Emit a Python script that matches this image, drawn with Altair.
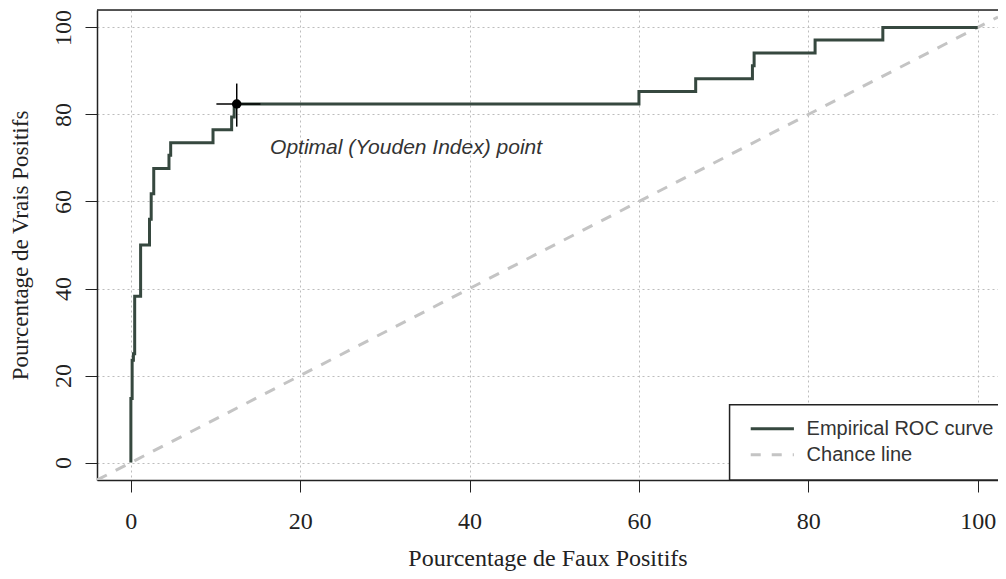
import altair as alt
import pandas as pd

# Empirical ROC curve (step vertices: x = false-positive %, y = true-positive % after the jump)
fpr = [0, 0, 0.15, 0.3, 0.45, 1.15, 2.2, 2.4, 2.7, 4.5, 4.7, 9.7, 11.9, 12.2,
       60.0, 66.7, 73.4, 73.6, 80.8, 88.8, 100]
tpr = [0, 14.7, 23.5, 25.0, 38.2, 50.0, 55.9, 61.8, 67.6, 70.6, 73.5, 76.5, 79.4, 82.4,
       85.3, 88.2, 91.2, 94.1, 97.1, 100, 100]

# Chance line (diagonal, spanning the plotting region)
chance_x = [-4, 102.4]
chance_y = [-4, 102.4]

# Optimal (Youden index) point and its cross
opt_x = [12.5]
opt_y = [82.4]
opt_x_lo, opt_x_hi = [10.1], [15.3]
opt_y_lo, opt_y_hi = [77.2], [87.1]

ticks = [0, 20, 40, 60, 80, 100]
annotation = ["Optimal (Youden Index) point"]
legend_labels = ["Empirical ROC curve", "Chance line"]

X_DOM = [-4, 102.4]
Y_DOM = [-4, 104]
W, H = 901, 470

CURVE = "#36483f"
CHANCE = "#c4c4c4"
INK = "#222222"
SERIF = "Liberation Serif"
SANS = "Liberation Sans"

xs = alt.Scale(domain=X_DOM, nice=False, zero=False)
ys = alt.Scale(domain=Y_DOM, nice=False, zero=False)

x_axis = alt.Axis(values=ticks, title="Pourcentage de Faux Positifs", grid=True,
                  gridDash=[2, 3], gridColor="#bdbdbd", gridWidth=1,
                  tickSize=12, tickColor=INK, tickWidth=1,
                  domainColor=INK, domainWidth=1.5,
                  labelFont=SERIF, labelFontSize=24, labelColor=INK, labelPadding=17,
                  titleFont=SERIF, titleFontSize=24, titleFontWeight="normal",
                  titleColor=INK, titleBaseline="alphabetic", titleY=85)
y_axis = alt.Axis(values=ticks, title="Pourcentage de Vrais Positifs", grid=True,
                  gridDash=[2, 3], gridColor="#bdbdbd", gridWidth=1,
                  tickSize=12, tickColor=INK, tickWidth=1,
                  domainColor=INK, domainWidth=1.5,
                  labelFont=SERIF, labelFontSize=24, labelColor=INK, labelAngle=270,
                  labelAlign="center", labelBaseline="middle", labelPadding=22,
                  titleFont=SERIF, titleFontSize=23, titleFontWeight="normal",
                  titleColor=INK, titleAngle=270, titleBaseline="middle", titleX=-77)

roc_df = pd.DataFrame({"fpr": fpr, "tpr": tpr, "o": list(range(len(fpr)))})
chance_df = pd.DataFrame({"fpr": chance_x, "tpr": chance_y})
opt_df = pd.DataFrame({"fpr": opt_x, "tpr": opt_y, "xlo": opt_x_lo, "xhi": opt_x_hi,
                       "ylo": opt_y_lo, "yhi": opt_y_hi})

chance = alt.Chart(chance_df).mark_line(color=CHANCE, strokeWidth=3, strokeDash=[11, 10],
                                        clip=True).encode(
    x=alt.X("fpr:Q", scale=xs, axis=x_axis),
    y=alt.Y("tpr:Q", scale=ys, axis=y_axis),
)

curve = alt.Chart(roc_df).mark_line(color=CURVE, strokeWidth=3, interpolate="step-after").encode(
    x=alt.X("fpr:Q", scale=xs),
    y=alt.Y("tpr:Q", scale=ys),
    order="o:Q",
)

hbar = alt.Chart(opt_df).mark_rule(color="#000000", strokeWidth=1.5).encode(
    x=alt.X("xlo:Q", scale=xs), x2="xhi:Q", y=alt.Y("tpr:Q", scale=ys))
vbar = alt.Chart(opt_df).mark_rule(color="#000000", strokeWidth=1.5).encode(
    y=alt.Y("ylo:Q", scale=ys), y2="yhi:Q", x=alt.X("fpr:Q", scale=xs))
dot = alt.Chart(opt_df).mark_point(filled=True, color="#000000", size=90, opacity=1).encode(
    x=alt.X("fpr:Q", scale=xs), y=alt.Y("tpr:Q", scale=ys))

ann_df = pd.DataFrame({"fpr": [32.5], "tpr": [72.2], "t": annotation})
ann = alt.Chart(ann_df).mark_text(font=SANS, fontSize=21, fontStyle="italic", color="#333333",
                                  align="center", baseline="middle").encode(
    x=alt.X("fpr:Q", scale=xs), y=alt.Y("tpr:Q", scale=ys), text="t:N")

# Legend box (right edge runs past the plotting region, as in the reference)
box_df = pd.DataFrame({"x": [70.7], "x2": [108], "y": [-4], "y2": [13.3]})
box = alt.Chart(box_df).mark_rect(fill="white", stroke=INK, strokeWidth=1.5, clip=True).encode(
    x=alt.X("x:Q", scale=xs), x2="x2:Q", y=alt.Y("y:Q", scale=ys), y2="y2:Q")

leg_df = pd.DataFrame({"x": [73.2, 73.2], "x2": [78.3, 78.3], "y": [7.8, 1.8],
                       "tx": [79.8, 79.8], "label": legend_labels})
leg_solid = alt.Chart(leg_df.iloc[[0]]).mark_rule(color=CURVE, strokeWidth=3).encode(
    x=alt.X("x:Q", scale=xs), x2="x2:Q", y=alt.Y("y:Q", scale=ys))
leg_dash = alt.Chart(leg_df.iloc[[1]]).mark_rule(color=CHANCE, strokeWidth=3,
                                                 strokeDash=[10, 11]).encode(
    x=alt.X("x:Q", scale=xs), x2="x2:Q", y=alt.Y("y:Q", scale=ys))
leg_text = alt.Chart(leg_df).mark_text(font=SANS, fontSize=20, color="#333333",
                                       align="left", baseline="middle").encode(
    x=alt.X("tx:Q", scale=xs), y=alt.Y("y:Q", scale=ys), text="label:N")

top_rule = alt.Chart(ann_df).mark_rule(color=INK, strokeWidth=1.5).encode(
    x=alt.value(0), x2=alt.value(W), y=alt.value(0))

chart = alt.layer(chance, curve, hbar, vbar, dot, ann, box, leg_solid, leg_dash, leg_text,
                  top_rule).properties(
    width=W, height=H,
    autosize=alt.AutoSizeParams(type="none"),
    padding={"left": 89, "top": 2, "right": 0, "bottom": 91},
).configure_view(stroke=None).configure(background="white")

chart.save("out.html", embed_options={"renderer": "svg", "actions": False})
